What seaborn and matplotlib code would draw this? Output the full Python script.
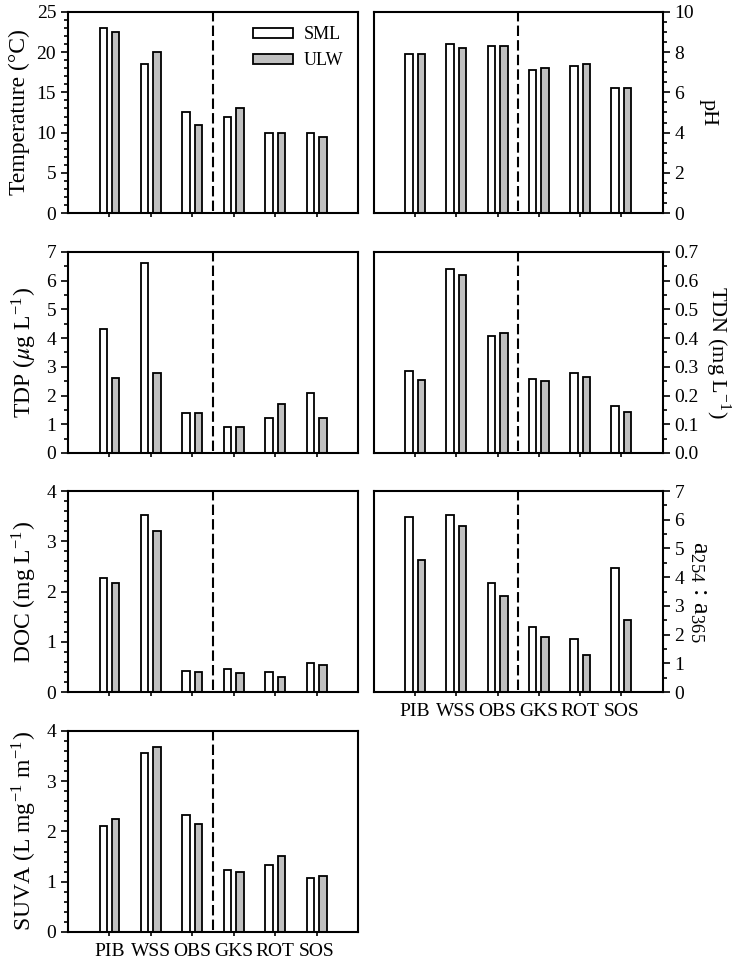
import pandas as pd
import seaborn as sns
import matplotlib.pyplot as plt
from matplotlib.ticker import MultipleLocator

# pontos de amostragem e camadas
sites = ['PIB', 'WSS', 'OBS', 'GKS', 'ROT', 'SOS']
layers = ['SML', 'ULW']

temp_sml = [23.0, 18.5, 12.5, 12.0, 10.0, 10.0]
temp_ulw = [22.5, 20.0, 11.0, 13.0, 10.0, 9.5]
ph_sml = [7.9, 8.4, 8.3, 7.1, 7.3, 6.2]
ph_ulw = [7.9, 8.2, 8.3, 7.2, 7.4, 6.2]
tdp_sml = [4.3, 6.6, 1.4, 0.9, 1.2, 2.1]
tdp_ulw = [2.6, 2.8, 1.4, 0.9, 1.7, 1.2]
tdn_sml = [0.284, 0.641, 0.406, 0.259, 0.277, 0.165]
tdn_ulw = [0.253, 0.621, 0.416, 0.249, 0.264, 0.142]
doc_sml = [2.27, 3.53, 0.42, 0.46, 0.39, 0.57]
doc_ulw = [2.17, 3.21, 0.40, 0.37, 0.29, 0.53]
ratio_sml = [6.08, 6.17, 3.81, 2.28, 1.83, 4.31]
ratio_ulw = [4.61, 5.77, 3.36, 1.91, 1.30, 2.51]
suva_sml = [2.10, 3.56, 2.32, 1.23, 1.34, 1.07]
suva_ulw = [2.25, 3.68, 2.15, 1.20, 1.52, 1.11]

sns.set_style('ticks')
plt.rcParams['font.family'] = ['Liberation Serif', 'DejaVu Serif']
plt.rcParams['mathtext.fontset'] = 'stix'
plt.rcParams['axes.linewidth'] = 1.5
for chave in ['axes.edgecolor', 'xtick.color', 'ytick.color', 'text.color', 'axes.labelcolor']:
    plt.rcParams[chave] = 'black'

cores = {'SML': 'white', 'ULW': '#c0c0c0'}


def tabela(sml, ulw):
    return pd.DataFrame({
        'site': sites * 2,
        'layer': ['SML'] * len(sites) + ['ULW'] * len(sites),
        'value': list(sml) + list(ulw),
    })


# (dados SML, dados ULW, rotulo, ymax, major, minor, lado)
paineis = [
    (temp_sml, temp_ulw, 'Temperature (°C)', 25, 5, 1, 'left'),
    (ph_sml, ph_ulw, 'pH', 10, 2, 0.5, 'right'),
    (tdp_sml, tdp_ulw, r'TDP ($\mu$g L$^{\mathregular{-1}}$)', 7, 1, 0.5, 'left'),
    (tdn_sml, tdn_ulw, r'TDN (mg L$^{\mathregular{-1}}$)', 0.7, 0.1, 0.05, 'right'),
    (doc_sml, doc_ulw, r'DOC (mg L$^{\mathregular{-1}}$)', 4, 1, 0.2, 'left'),
    (ratio_sml, ratio_ulw, r'$\mathregular{a_{254}}$ : $\mathregular{a_{365}}$', 7, 1, 0.5, 'right'),
    (suva_sml, suva_ulw, r'SUVA (L mg$^{\mathregular{-1}}$ m$^{\mathregular{-1}}$)', 4, 1, 0.2, 'left'),
]

fig = plt.figure(figsize=(7.33, 9.66), dpi=100)
col_x = {'left': 0.0928, 'right': 0.510}
col_w = {'left': 0.3956, 'right': 0.394}
row_y = [0.7795, 0.5311, 0.2836, 0.0352]
altura = 0.2081

for i, (sml, ulw, rotulo, ymax, major, minor, lado) in enumerate(paineis):
    linha = i // 2
    ax = fig.add_axes([col_x[lado], row_y[linha], col_w[lado], altura])
    df = tabela(sml, ulw)
    sns.barplot(data=df, x='site', y='value', hue='layer', order=sites, hue_order=layers,
                palette=cores, edgecolor='black', linewidth=1.3, width=0.6, gap=0.4,
                errorbar=None, legend=(i == 0), ax=ax)
    ax.set_xlim(-1, 6)
    ax.set_ylim(0, ymax)
    ax.axvline(2.5, ymin=0.01, color='black', lw=1.5, ls=(0, (5, 2)))
    ax.yaxis.set_major_locator(MultipleLocator(major))
    ax.yaxis.set_minor_locator(MultipleLocator(minor))
    ax.tick_params(axis='y', which='major', direction='out', length=5, width=1.2, labelsize=14)
    ax.tick_params(axis='y', which='minor', direction='out', length=3, width=1.2)
    ax.tick_params(axis='x', direction='out', length=3, width=1.2, labelsize=14, pad=5)
    ax.set_xlabel('')
    bottom = (i == 5 or i == 6)
    if not bottom:
        ax.set_xticklabels([])
    if lado == 'right':
        ax.yaxis.tick_right()
        ax.yaxis.set_label_position('right')
        tam = 19 if i == 5 else 16
        ax.set_ylabel(rotulo, fontsize=tam, rotation=270, va='bottom', labelpad=3)
    else:
        ax.set_ylabel(rotulo, fontsize=17, labelpad=5)
    if i == 0:
        handles, labels = ax.get_legend_handles_labels()
        ax.legend(handles, labels, frameon=False, loc='upper right', fontsize=13,
                  handlelength=2.2, handleheight=0.5, borderaxespad=0.4, labelspacing=0.5,
                  handletextpad=0.6)

plt.savefig('out.png', dpi=100)
